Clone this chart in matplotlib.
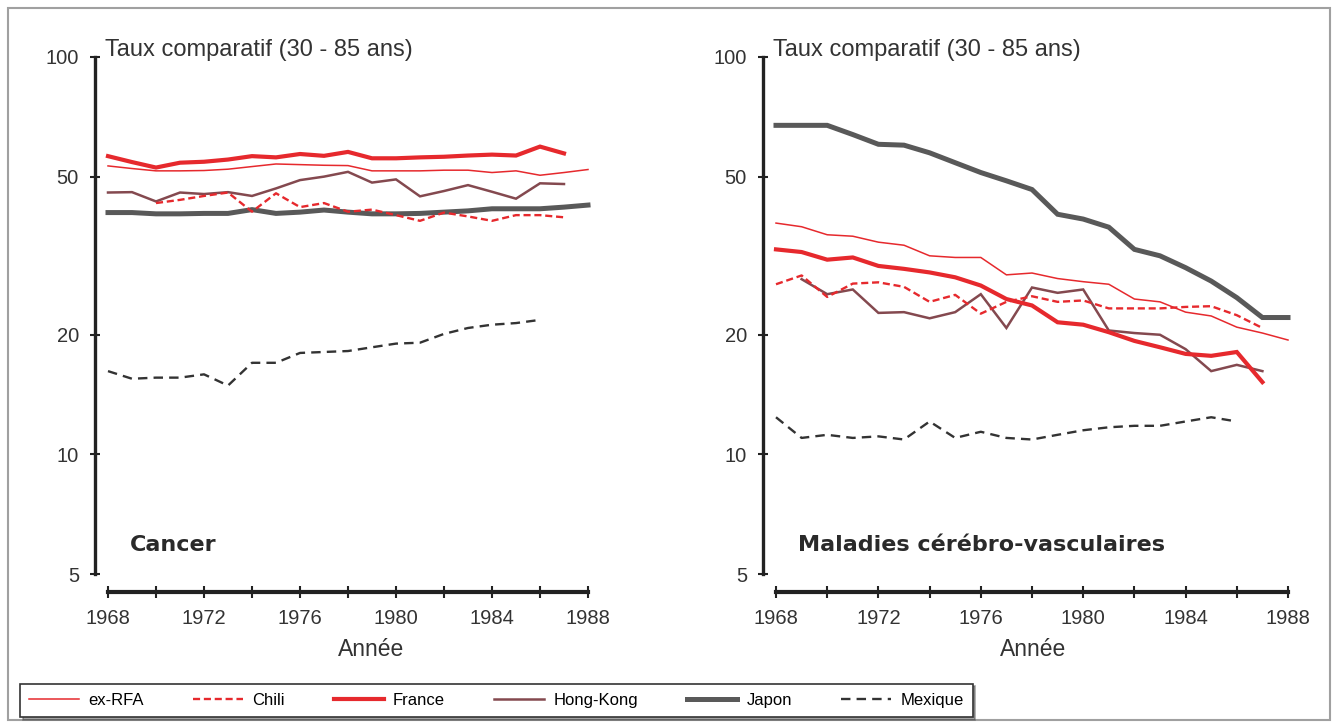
import matplotlib.pyplot as plt
from matplotlib.lines import Line2D
from matplotlib.patches import Rectangle
from matplotlib.ticker import NullLocator

plt.rcParams['font.family'] = ['Liberation Sans', 'DejaVu Sans']

W, H = 1338, 727

# ---- data (taux comparatif, 30-85 ans) ----
years_full = list(range(1968, 1989))   # 1968-1988
years_87 = list(range(1968, 1988))     # 1968-1987
years_86 = list(range(1968, 1987))     # 1968-1986
years_chili_c = list(range(1970, 1988))
years_hk_v = list(range(1969, 1988))

cancer_rfa = [53.2, 52.4, 51.7, 51.7, 51.8, 52.2, 53.0, 53.8, 53.6, 53.4, 53.3,
              51.7, 51.7, 51.7, 51.9, 51.9, 51.2, 51.7, 50.4, 51.2, 52.1]
cancer_chili = [42.9, 43.7, 44.7, 45.6, 40.8, 45.4, 41.9, 42.9, 40.8, 41.3,
                40.0, 38.7, 40.6, 39.7, 38.7, 40.0, 40.0, 39.5]
cancer_france = [56.3, 54.4, 52.7, 54.2, 54.5, 55.2, 56.3, 55.9, 57.0, 56.4,
                 57.7, 55.6, 55.6, 55.9, 56.1, 56.5, 56.8, 56.5, 59.5, 57.2]
cancer_hk = [45.6, 45.7, 43.3, 45.6, 45.2, 45.7, 44.7, 46.7, 49.0, 50.0,
             51.4, 48.3, 49.2, 44.6, 46.0, 47.6, 45.8, 44.0, 48.1, 47.9]
cancer_japon = [40.6, 40.6, 40.3, 40.3, 40.4, 40.4, 41.3, 40.4, 40.7, 41.2, 40.7,
                40.3, 40.3, 40.4, 40.7, 41.0, 41.5, 41.5, 41.5, 41.9, 42.4]
cancer_mexique = [16.2, 15.5, 15.6, 15.6, 15.9, 14.9, 17.0, 17.0, 18.0, 18.1,
                  18.2, 18.6, 19.0, 19.1, 20.1, 20.8, 21.2, 21.4, 21.8]

cvd_rfa = [38.2, 37.4, 35.7, 35.4, 34.2, 33.6, 31.6, 31.3, 31.3, 28.3, 28.6,
           27.7, 27.2, 26.8, 24.6, 24.2, 22.8, 22.3, 20.9, 20.2, 19.4]
cvd_chili = [26.8, 28.2, 24.9, 26.9, 27.1, 26.4, 24.2, 25.2, 22.6, 24.2,
             25.0, 24.2, 24.4, 23.3, 23.3, 23.3, 23.5, 23.6, 22.4, 20.8]
cvd_france = [32.8, 32.3, 30.9, 31.3, 29.8, 29.3, 28.7, 27.9, 26.6, 24.6,
              23.7, 21.5, 21.2, 20.3, 19.3, 18.6, 17.9, 17.7, 18.1, 15.2]
cvd_hk = [27.6, 25.3, 26.0, 22.7, 22.8, 22.0, 22.8, 25.3, 20.8, 26.3,
          25.5, 26.0, 20.5, 20.2, 20.0, 18.4, 16.2, 16.8, 16.2]
cvd_japon = [67.3, 67.3, 67.3, 63.8, 60.3, 60.0, 57.4, 54.2, 51.2, 48.8, 46.4,
             40.2, 39.1, 37.3, 32.8, 31.6, 29.5, 27.3, 24.8, 22.1, 22.1]
cvd_mexique = [12.4, 11.0, 11.2, 11.0, 11.1, 10.9, 12.1, 11.0, 11.4, 11.0,
               10.9, 11.2, 11.5, 11.7, 11.8, 11.8, 12.1, 12.4, 12.1]

y_ticks = [5, 10, 20, 50, 100]
x_ticks = [1968, 1972, 1976, 1980, 1984, 1988]
x_minor = [1970, 1974, 1978, 1982, 1986]

red = '#e6292d'
styles = {
    'ex-RFA': dict(color=red, lw=1.1),
    'Chili': dict(color=red, lw=1.7, ls=(0, (3, 1.6))),
    'France': dict(color=red, lw=3.0),
    'Hong-Kong': dict(color='#84494f', lw=1.8),
    'Japon': dict(color='#595959', lw=3.6),
    'Mexique': dict(color='#333333', lw=1.7, ls=(0, (4, 2.6))),
}
order = ['ex-RFA', 'Chili', 'France', 'Hong-Kong', 'Japon', 'Mexique']

panels = [
    dict(left=108, right=588, xlab=371, label='Cancer', series={
        'Japon': (years_full, cancer_japon),
        'Mexique': (years_86, cancer_mexique),
        'Hong-Kong': (years_87, cancer_hk),
        'ex-RFA': (years_full, cancer_rfa),
        'Chili': (years_chili_c, cancer_chili),
        'France': (years_87, cancer_france)}),
    dict(left=776, right=1288, xlab=1033, label='Maladies cérébro-vasculaires', series={
        'Japon': (years_full, cvd_japon),
        'Mexique': (years_86, cvd_mexique),
        'Hong-Kong': (years_hk_v, cvd_hk),
        'ex-RFA': (years_full, cvd_rfa),
        'Chili': (years_87, cvd_chili),
        'France': (years_87, cvd_france)}),
]

fig = plt.figure(figsize=(W / 100, H / 100), dpi=100)
top, bottom = 57, 574

for p in panels:
    ax = fig.add_axes([p['left'] / W, 1 - bottom / H,
                       (p['right'] - p['left']) / W, (bottom - top) / H])
    for name, (xs, ys) in p['series'].items():
        ax.plot(xs, ys, clip_on=False, solid_joinstyle='miter', **styles[name])
    ax.set_yscale('log')
    ax.set_ylim(5, 100)
    ax.set_xlim(1968, 1988)
    ax.set_yticks(y_ticks)
    ax.set_yticklabels([str(v) for v in y_ticks])
    ax.yaxis.set_minor_locator(NullLocator())
    ax.set_xticks(x_ticks)
    ax.set_xticks(x_minor, minor=True)
    for s in ['top', 'right']:
        ax.spines[s].set_visible(False)
    ax.spines['left'].set_position(('outward', 9.4))
    ax.spines['bottom'].set_position(('outward', 13))
    ax.spines['left'].set_bounds(5, 100)
    ax.spines['bottom'].set_bounds(1968, 1988)
    ax.spines['left'].set_linewidth(2.4)
    ax.spines['bottom'].set_linewidth(3)
    for s in ['left', 'bottom']:
        ax.spines[s].set_color('#222222')
    ax.tick_params(axis='y', which='both', direction='inout', length=7, width=1.5,
                   color='#222222', labelsize=14.5, labelcolor='#333333', pad=8)
    ax.tick_params(axis='x', which='both', direction='inout', length=9, width=1.5,
                   color='#222222', labelsize=14.5, labelcolor='#333333', pad=8)
    ax.patch.set_alpha(0)
    fig.text((p['left'] - 3) / W, 1 - 50 / H, 'Taux comparatif (30 - 85 ans)',
             fontsize=17, color='#333333', va='center', ha='left')
    fig.text((p['left'] + 22) / W, 1 - 545 / H, p['label'], fontsize=16,
             family=['DejaVu Sans'], weight='heavy', color='#2a2a2a',
             va='center', ha='left')
    fig.text(p['xlab'] / W, 1 - 649 / H, 'Année',
             fontsize=16.5, color='#333333', va='center', ha='center')

# outer frame
fig.patches.append(Rectangle((8 / W, 1 - 720 / H), 1322 / W, 712 / H,
                             transform=fig.transFigure, fill=False,
                             ec='#a0a0a0', lw=1.5))

handles = [Line2D([], [], **styles[n]) for n in order]
leg = fig.legend(handles, order, loc='lower left',
                 bbox_to_anchor=(20 / W, 1 - 717 / H), ncol=6, frameon=True,
                 fancybox=False, shadow=True, edgecolor='#333333',
                 fontsize=12, handlelength=3.0, columnspacing=2.95,
                 borderpad=0.55, handletextpad=0.55, borderaxespad=0)
leg.get_frame().set_linewidth(1.2)

fig.savefig('out.png', dpi=100, facecolor='white')
